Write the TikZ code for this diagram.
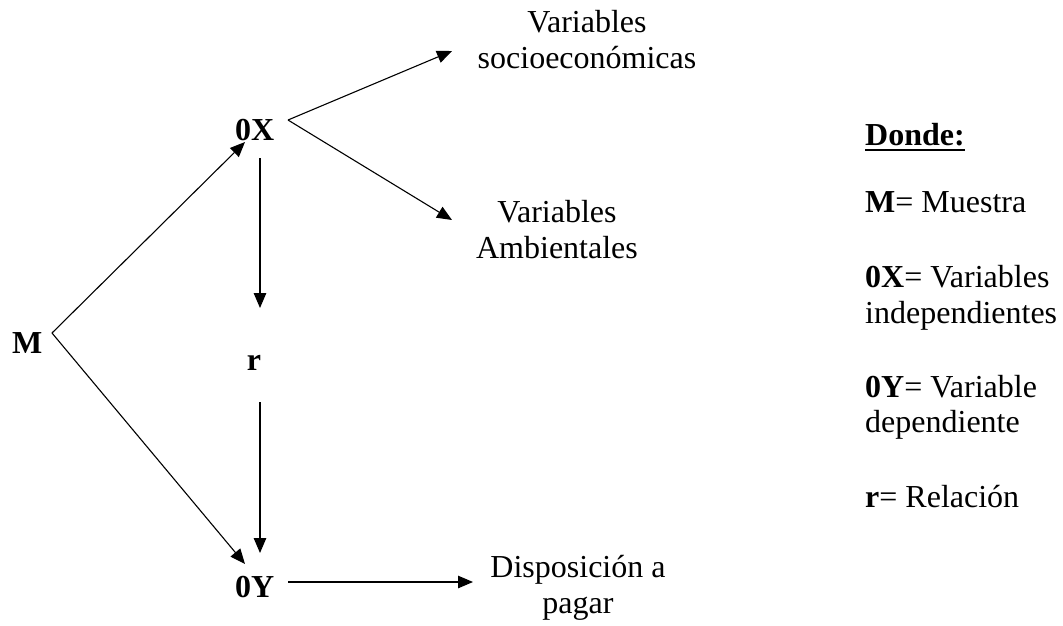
\documentclass[tikz,border=0pt]{standalone}
\usepackage{fontspec}
\setmainfont{Liberation Serif}
\usetikzlibrary{arrows.meta,calc}
\begin{document}
\begin{tikzpicture}[x=1pt,y=-1pt,
  every node/.style={inner sep=0pt, font=\fontsize{32}{36}\selectfont},
  lbl/.style={anchor=base},
  leg/.style={anchor=base west},
  boldlbl/.style={anchor=base west, font=\fontsize{32}{36}\selectfont\bfseries},
  conn/.style={line width=1.1pt, -{Triangle[length=15pt,width=12.5pt]}}]
\useasboundingbox (0,0) rectangle (1063,625);
% main labels
\node[boldlbl] (M) at (12,353) {M};
\node[boldlbl] (X) at (235,140) {0X};
\node[boldlbl,anchor=base] (r) at (254,370) {r};
\node[boldlbl] (Y) at (235,597) {0Y};
\node[lbl] (s1) at (587,32) {Variables};
\node[lbl] (s2) at (587,68) {socioeconómicas};
\node[lbl] (a1) at (557,222) {Variables};
\node[lbl] (a2) at (557,258) {Ambientales};
\node[lbl] (d1) at (578,577) {Disposición a};
\node[lbl] (d2) at (578,613) {pagar};
% connector end points
\coordinate (mv) at (52,333);
\coordinate (xin) at (245,142);
\coordinate (yin) at (245,564);
\coordinate (xdown) at (260,158);
\coordinate (rin) at (260,308);
\coordinate (rdown) at (260,402);
\coordinate (ytop) at (260,553);
\coordinate (xv) at (288,120);
\coordinate (sin) at (452,51);
\coordinate (ain) at (452,220);
\coordinate (yout) at (288,582);
\coordinate (din) at (473,582);
% connectors
\draw[conn] (mv) -- (xin);
\draw[conn] (mv) -- (yin);
\draw[conn] (xdown) -- (rin);
\draw[conn] (rdown) -- (ytop);
\draw[conn] (xv) -- (sin);
\draw[conn] (xv) -- (ain);
\draw[conn] (yout) -- (din);
% legend
\node[leg] (donde) at (865,145) {\textbf{Donde:}};
\draw[line width=2pt] ($(donde.base west)+(0,5)$) -- ($(donde.base east)+(0,5)$);
\node[leg] (l1) at (865,212) {\textbf{M}= Muestra};
\node[leg] (l2) at (865,287) {\textbf{0X}= Variables};
\node[leg] (l3) at (865,323) {independientes};
\node[leg] (l4) at (865,397) {\textbf{0Y}= Variable};
\node[leg] (l5) at (865,432) {dependiente};
\node[leg] (l6) at (865,507) {\textbf{r}= Relación};
\end{tikzpicture}
\end{document}
